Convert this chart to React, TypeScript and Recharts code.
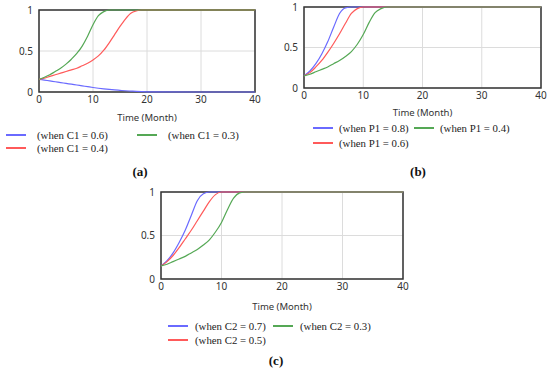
import { CartesianGrid, Line, LineChart, ReferenceArea, XAxis, YAxis } from "recharts";

const TIME = [0, 1, 2, 3, 4, 5, 6, 7, 8, 9, 10, 11, 12, 13, 14, 15, 16, 17, 18, 19, 20, 30, 40];
const X_TICKS = [0, 10, 20, 30, 40];
const Y_TICKS = [0, 0.5, 1];

// (a) varying C1
const C1_06 = [0.155, 0.145, 0.135, 0.125, 0.115, 0.105, 0.095, 0.085, 0.075, 0.065, 0.055, 0.046, 0.038, 0.031, 0.025, 0.02, 0.015, 0.011, 0.007, 0.004, 0.002, 0, 0];
const C1_04 = [0.155, 0.17, 0.19, 0.21, 0.23, 0.25, 0.27, 0.29, 0.32, 0.35, 0.39, 0.44, 0.51, 0.6, 0.7, 0.8, 0.89, 0.96, 0.99, 1, 1, 1, 1];
const C1_03 = [0.155, 0.18, 0.21, 0.25, 0.29, 0.34, 0.4, 0.47, 0.56, 0.68, 0.82, 0.93, 0.98, 1, 1, 1, 1, 1, 1, 1, 1, 1, 1];

// (b) varying P1
const P1_08 = [0.15, 0.21, 0.3, 0.42, 0.57, 0.75, 0.92, 0.99, 1, 1, 1, 1, 1, 1, 1, 1, 1, 1, 1, 1, 1, 1, 1];
const P1_06 = [0.15, 0.19, 0.26, 0.34, 0.44, 0.55, 0.67, 0.8, 0.92, 0.98, 1, 1, 1, 1, 1, 1, 1, 1, 1, 1, 1, 1, 1];
const P1_04 = [0.15, 0.17, 0.2, 0.23, 0.26, 0.3, 0.34, 0.39, 0.45, 0.54, 0.66, 0.81, 0.93, 0.98, 1, 1, 1, 1, 1, 1, 1, 1, 1];

// (c) varying C2
const C2_07 = [0.15, 0.21, 0.3, 0.42, 0.56, 0.73, 0.9, 0.98, 1, 1, 1, 1, 1, 1, 1, 1, 1, 1, 1, 1, 1, 1, 1];
const C2_05 = [0.15, 0.2, 0.27, 0.36, 0.46, 0.56, 0.67, 0.78, 0.89, 0.97, 1, 1, 1, 1, 1, 1, 1, 1, 1, 1, 1, 1, 1];
const C2_03 = [0.15, 0.17, 0.2, 0.23, 0.26, 0.3, 0.34, 0.39, 0.45, 0.54, 0.65, 0.8, 0.93, 0.99, 1, 1, 1, 1, 1, 1, 1, 1, 1];

const BLUE = "#6a6aff";
const RED = "#ff5a5a";
const GREEN = "#55a855";

const SANS = "'Noto Sans', sans-serif";
const SERIF = "'Liberation Serif', 'Times New Roman', serif";

type Series = { name: string; values: number[]; color: string };

type PanelProps = {
  x: number;
  y: number;
  width: number;
  height: number;
  plotLeft: number;
  plotRight: number;
  plotTop: number;
  series: Series[];
  // legend: [blue, red, green] positions
  legendX: number;
  legendX2: number;
  legendY1: number;
  legendY2: number;
  legendGap: number;
  titleY: number;
  caption: string;
  captionX: number;
  captionY: number;
};

function Panel(p: PanelProps) {
  const data = TIME.map((t, i) => {
    const row: Record<string, number> = { t };
    p.series.forEach((s, k) => {
      row["s" + k] = s.values[i];
    });
    return row;
  });
  const plotCenter = (p.plotLeft + p.plotRight) / 2;
  const legendItem = (s: Series, lx: number, ly: number) => (
    <div
      key={s.name}
      style={{ position: "absolute", left: lx, top: ly - 8, height: 16, display: "flex", alignItems: "center" }}
    >
      <div style={{ width: 20, height: 1.5, background: s.color }} />
      <span style={{ marginLeft: p.legendGap, fontFamily: SERIF, fontSize: 10.8, color: "#222", whiteSpace: "nowrap" }}>
        {s.name}
      </span>
    </div>
  );
  return (
    <>
      <div style={{ position: "absolute", left: p.x, top: p.y }}>
        <LineChart
          width={p.width}
          height={p.height}
          data={data}
          margin={{ top: p.plotTop - p.y, right: p.x + p.width - p.plotRight, bottom: 0, left: 0 }}
        >
          <CartesianGrid stroke="#dcdcdc" strokeWidth={1} />
          <XAxis
            dataKey="t"
            type="number"
            domain={[0, 40]}
            ticks={X_TICKS}
            height={20}
            tickLine={false}
            axisLine={false}
            tickSize={3}
            tickMargin={1}
            tick={{ fill: "#333", fontSize: 10, fontFamily: SANS }}
          />
          <YAxis
            type="number"
            domain={[0, 1]}
            ticks={Y_TICKS}
            width={p.plotLeft - p.x}
            tickLine={false}
            axisLine={false}
            tickSize={4}
            tickMargin={2}
            tick={{ fill: "#333", fontSize: 10, fontFamily: SANS }}
          />
          {p.series.map((s, k) => (
            <Line
              key={s.name}
              type="monotone"
              dataKey={"s" + k}
              stroke={s.color}
              strokeWidth={1.2}
              dot={false}
              isAnimationActive={false}
            />
          ))}
          <ReferenceArea x1={0} x2={40} y1={0} y2={1} fill="none" stroke="#333" strokeWidth={1.5} />
        </LineChart>
      </div>
      <div
        style={{
          position: "absolute",
          left: plotCenter - 60,
          width: 120,
          top: p.titleY - 7,
          textAlign: "center",
          fontFamily: SANS,
          fontSize: 9.5,
          color: "#333",
        }}
      >
        Time (Month)
      </div>
      {legendItem(p.series[0], p.legendX, p.legendY1)}
      {legendItem(p.series[1], p.legendX, p.legendY2)}
      {legendItem(p.series[2], p.legendX2, p.legendY1)}
      <div
        style={{
          position: "absolute",
          left: p.captionX - 20,
          width: 40,
          top: p.captionY - 8,
          textAlign: "center",
          fontFamily: SERIF,
          fontWeight: "bold",
          fontSize: 13,
          color: "#111",
        }}
      >
        {p.caption}
      </div>
    </>
  );
}

export default function App() {
  return (
    <div
      style={{
        position: "absolute",
        left: 0,
        top: 0,
        width: 550,
        height: 371,
        background: "#fff",
        overflow: "hidden",
      }}
    >
      <Panel
        x={0}
        y={0}
        width={267}
        height={112}
        plotLeft={39}
        plotRight={255}
        plotTop={10}
        series={[
          { name: "(when C1 = 0.6)", values: C1_06, color: BLUE },
          { name: "(when C1 = 0.4)", values: C1_04, color: RED },
          { name: "(when C1 = 0.3)", values: C1_03, color: GREEN },
        ]}
        legendX={6}
        legendX2={137}
        legendY1={135}
        legendY2={148}
        legendGap={11}
        titleY={118}
        caption="(a)"
        captionX={140}
        captionY={172}
      />
      <Panel
        x={270}
        y={0}
        width={280}
        height={108}
        plotLeft={304}
        plotRight={541}
        plotTop={7}
        series={[
          { name: "(when P1 = 0.8)", values: P1_08, color: BLUE },
          { name: "(when P1 = 0.6)", values: P1_06, color: RED },
          { name: "(when P1 = 0.4)", values: P1_04, color: GREEN },
        ]}
        legendX={313}
        legendX2={414}
        legendY1={128}
        legendY2={143}
        legendGap={6}
        titleY={113}
        caption="(b)"
        captionX={418}
        captionY={172}
      />
      <Panel
        x={125}
        y={180}
        width={290}
        height={119}
        plotLeft={161}
        plotRight={403}
        plotTop={192}
        series={[
          { name: "(when C2 = 0.7)", values: C2_07, color: BLUE },
          { name: "(when C2 = 0.5)", values: C2_05, color: RED },
          { name: "(when C2 = 0.3)", values: C2_03, color: GREEN },
        ]}
        legendX={168}
        legendX2={273}
        legendY1={326}
        legendY2={340}
        legendGap={7}
        titleY={307}
        caption="(c)"
        captionX={276}
        captionY={361}
      />
    </div>
  );
}
